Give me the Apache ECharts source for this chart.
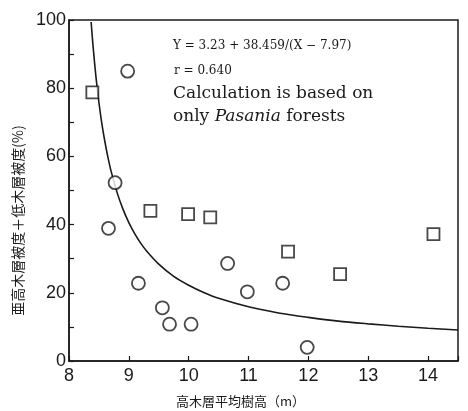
<!DOCTYPE html>
<html>
<head>
<meta charset="utf-8">
<script src="https://cdn.jsdelivr.net/npm/echarts@6/dist/echarts.min.js"></script>
<style>
  html, body { margin: 0; padding: 0; background: #fff; }
  #chart { width: 468px; height: 411px; }
</style>
</head>
<body>
<div id="chart"></div>
<script>
// Pasania forests (squares) and other stands (circles)
const circlePoints = [
    [8.98, 85.0], [8.77, 52.3], [8.66, 38.9], [9.16, 22.8], [9.56, 15.6], [9.68, 10.8],
    [10.04, 10.8], [10.65, 28.6], [10.98, 20.3], [11.57, 22.8], [11.98, 4.0]
];
const squarePoints = [
    [8.39, 78.8], [9.36, 44.0], [9.99, 43.1], [10.36, 42.1], [11.66, 32.1], [12.53, 25.5], [14.09, 37.2]
];
// fitted curve
const curveX = [8.37, 8.4, 8.45, 8.5, 8.55, 8.6, 8.65, 8.7, 8.8, 8.9, 9.0, 9.1, 9.2, 9.3, 9.5, 9.75,
    10.0, 10.25, 10.5, 11.0, 11.5, 12.0, 12.5, 13.0, 13.5, 14.0, 14.5];
const curveY = [99.4, 92.7, 83.4, 75.8, 69.5, 64.3, 59.8, 55.9, 49.6, 44.6, 40.6, 37.3, 34.5, 32.2, 28.4, 24.8,
    22.2, 20.1, 18.4, 15.9, 14.1, 12.8, 11.7, 10.9, 10.2, 9.6, 9.1];
const xTicks = [8, 9, 10, 11, 12, 13, 14];

const ink = '#1a1a1a';
const chart = echarts.init(document.getElementById('chart'));

const option = {
    animation: false,
    backgroundColor: '#fff',
    grid: {
        left: 69, top: 20, right: 10, bottom: 50,
        outerBoundsMode: 'none',
        containLabel: false,
        show: true, borderColor: ink, borderWidth: 1.5, backgroundColor: 'transparent'
    },
    xAxis: {
        type: 'value',
        min: 8,
        max: 14.5,
        interval: 1,
        name: '高木層平均樹高（m）',
        nameLocation: 'middle',
        nameGap: 34,
        nameTextStyle: {
            fontFamily: 'Noto Sans CJK JP', fontSize: 13, color: ink, padding: [0, 46, 0, 0]
        },
        axisLine: {lineStyle: {color: ink, width: 1.5}},
        axisTick: {inside: true, length: 5, lineStyle: {color: ink, width: 1.2}},
        axisLabel: {
            fontFamily: 'Liberation Sans', fontSize: 18, color: ink, margin: 6,
            formatter: value => xTicks.includes(value) ? String(value) : ''
        },
        splitLine: {show: false}
    },
    yAxis: {
        type: 'value',
        min: 0,
        max: 100,
        interval: 20,
        name: '亜高木層被度＋低木層被度(%)',
        nameLocation: 'middle',
        nameGap: 41,
        nameRotate: 90,
        nameTextStyle: {
            fontFamily: 'Noto Sans CJK JP', fontSize: 14, color: ink, padding: [0, 60, 0, 0]
        },
        axisLine: {lineStyle: {color: ink, width: 1.5}},
        axisTick: {inside: true, length: 5, lineStyle: {color: ink, width: 1.2}},
        minorTick: {show: true, splitNumber: 2, length: 5, lineStyle: {color: ink, width: 1.2}},
        axisLabel: {fontFamily: 'Liberation Sans', fontSize: 18, color: ink, margin: 3},
        splitLine: {show: false}
    },
    graphic: [
        {
            type: 'text',
            left: 173,
            top: 40,
            style: {
                text: 'Y = 3.23 + 38.459/(X − 7.97)',
                font: '12px "DejaVu Serif", serif',
                fill: ink
            }
        },
        {
            type: 'text',
            left: 174,
            top: 65,
            style: {
                text: 'r = 0.640',
                font: '12px "DejaVu Serif", serif',
                fill: ink
            }
        },
        {
            type: 'text',
            left: 173,
            top: 82,
            style: {
                text: 'Calculation is based on\nonly {i|Pasania} forests',
                font: '17px "DejaVu Serif", serif',
                lineHeight: 23,
                fill: ink,
                rich: {
                    i: {font: 'italic 17px "DejaVu Serif", serif', fill: ink}
                }
            }
        }
    ],
    series: [
        {
            name: 'curve',
            type: 'line',
            data: curveX.map((x, i) => [x, curveY[i]]),
            smooth: 0.3,
            showSymbol: false,
            lineStyle: {color: ink, width: 1.6},
            z: 1
        },
        {
            name: 'others',
            type: 'scatter',
            data: circlePoints,
            symbol: 'circle',
            symbolSize: 13,
            itemStyle: {color: '#fff', borderColor: ink, borderWidth: 1.8},
            z: 3
        },
        {
            name: 'Pasania',
            type: 'scatter',
            data: squarePoints,
            symbol: 'rect',
            symbolSize: 12,
            itemStyle: {color: '#fff', borderColor: ink, borderWidth: 1.8},
            z: 3
        }
    ]
};
chart.setOption(option);
</script>
</body>
</html>
